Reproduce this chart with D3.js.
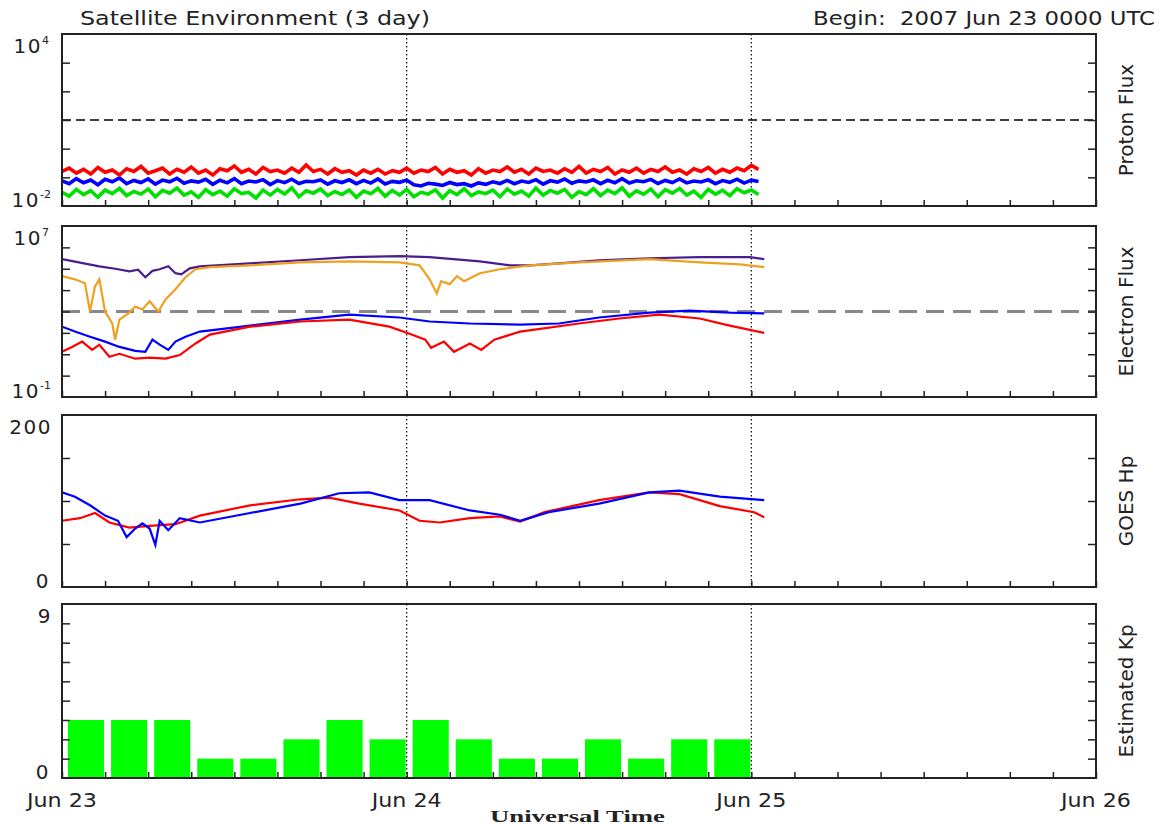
<!DOCTYPE html>
<html>
<head>
<meta charset="utf-8" />
<title>Satellite Environment (3 day)</title>
<script src="https://d3js.org/d3.v7.min.js"></script>
<style>
body { margin: 0; background: #fff; font-family: "DejaVu Sans", sans-serif; }
.frame { fill: none; stroke: #222; stroke-width: 2; }
.axis path { display: none; }
.axis line { stroke: #222; stroke-width: 1.5; }
.lbl { font-size: 19px; fill: #222; }
</style>
</head>
<body>
<div id="graphic"></div>
<script>
// ---- data (hours from 2007 Jun 23 00:00 UTC) ----
const protonRed = [0.16,0.21,0.14,0.19,0.13,0.22,0.15,0.18,0.12,0.20,0.16,0.24,0.14,0.17,0.21,0.13,0.19,0.15,0.23,0.14,
  0.18,0.12,0.20,0.17,0.25,0.15,0.19,0.13,0.22,0.16,0.18,0.14,0.21,0.15,0.27,0.16,0.19,0.13,0.20,0.15,
  0.17,0.12,0.18,0.14,0.19,0.13,0.17,0.15,0.21,0.14,0.18,0.16,0.22,0.13,0.19,0.15,0.17,0.12,0.20,0.14,
  0.18,0.16,0.23,0.15,0.19,0.13,0.21,0.16,0.18,0.14,0.20,0.15,0.24,0.14,0.19,0.16,0.22,0.13,0.18,0.15,
  0.21,0.14,0.19,0.16,0.23,0.15,0.18,0.13,0.20,0.16,0.22,0.14,0.19,0.15,0.21,0.17,0.26,0.19];
const protonBlue = [0.075,0.06,0.09,0.065,0.08,0.055,0.085,0.07,0.095,0.06,0.078,0.066,0.088,0.058,0.08,0.07,0.092,0.062,0.075,0.068,
  0.085,0.057,0.079,0.064,0.09,0.06,0.074,0.069,0.083,0.056,0.077,0.065,0.086,0.061,0.073,0.07,0.081,0.058,0.076,0.066,
  0.082,0.06,0.078,0.063,0.088,0.059,0.072,0.067,0.08,0.055,0.05,0.062,0.058,0.052,0.066,0.056,0.06,0.05,0.064,0.057,
  0.07,0.061,0.078,0.06,0.074,0.066,0.083,0.058,0.076,0.068,0.087,0.062,0.075,0.069,0.082,0.06,0.079,0.065,0.09,0.063,
  0.076,0.07,0.085,0.061,0.078,0.066,0.088,0.064,0.074,0.069,0.082,0.06,0.077,0.067,0.086,0.063,0.08,0.072];
const protonGreen = [0.03,0.022,0.038,0.025,0.034,0.02,0.036,0.027,0.041,0.023,0.032,0.026,0.039,0.021,0.035,0.028,0.042,0.024,0.031,0.02,
  0.037,0.025,0.033,0.022,0.04,0.027,0.03,0.019,0.036,0.024,0.038,0.026,0.043,0.021,0.034,0.028,0.039,0.023,0.032,0.025,
  0.036,0.02,0.033,0.027,0.041,0.022,0.035,0.024,0.038,0.021,0.03,0.026,0.037,0.019,0.034,0.025,0.04,0.023,0.031,0.027,
  0.036,0.021,0.039,0.026,0.033,0.022,0.042,0.024,0.035,0.028,0.038,0.02,0.032,0.025,0.04,0.023,0.036,0.027,0.043,0.022,
  0.034,0.026,0.039,0.021,0.037,0.028,0.041,0.024,0.033,0.02,0.038,0.026,0.035,0.023,0.04,0.029,0.036,0.025];
const protonStep = 0.5; // hours between proton samples

// electron flux [hour, value]
const elecPurple = [[0,2.8e5],[2.6,1.3e5],[3.7,1.0e5],[4.7,7.6e4],[5.3,9.0e4],[5.8,4.0e4],[6.3,8.0e4],[6.8,9.5e4],
  [7.4,1.3e5],[7.9,6.2e4],[8.3,5.5e4],[8.9,1.05e5],[9.6,1.3e5],[13.1,1.8e5],[16.6,2.5e5],[20,3.5e5],[23.5,3.9e5],
  [25.6,3.5e5],[29.1,2.2e5],[31.2,1.45e5],[32.6,1.45e5],[34.6,1.8e5],[37.4,2.5e5],[40.9,3.1e5],[44.4,3.5e5],
  [47.9,3.5e5],[48.9,2.8e5]];
const elecOrange = [[0,4.5e4],[0.9,3.2e4],[1.6,2.1e4],[1.95,1.0e3],[2.3,1.5e4],[2.6,3.2e4],[3.0,1.0e3],[3.5,280],
  [3.7,48],[4.0,420],[4.6,800],[5.1,1.7e3],[5.6,1.25e3],[6.1,3.0e3],[6.7,1.0e3],[7.2,3.6e3],[7.9,1.1e4],[8.6,4.0e4],
  [9.3,9.5e4],[10.3,1.2e5],[13.1,1.45e5],[16.6,2.0e5],[20,2.2e5],[23.5,2.0e5],[24.9,1.45e5],[25.6,3.2e4],[26.1,7e3],
  [26.4,2.6e4],[27.0,1.9e4],[27.5,4.5e4],[28.0,2.6e4],[29.1,6.2e4],[30.5,9.5e4],[32.6,1.45e5],[36.0,2.0e5],
  [40.9,2.8e5],[44.4,2.0e5],[47.2,1.6e5],[48.9,1.2e5]];
const elecBlue = [[0,195],[0.9,115],[1.95,66],[3.0,39],[4.0,22],[5.1,14.5],[5.8,13],[6.3,48],[6.8,28],[7.4,16],
  [7.9,39],[8.6,66],[9.6,115],[13.1,220],[16.6,420],[20,720],[23.5,525],[25.6,340],[28.4,275],[31.9,245],[34.6,275],
  [37.4,525],[40.9,890],[43.7,1100],[46.5,890],[48.9,810]];
const elecRed = [[0,13],[0.7,22],[1.4,39],[2.1,16],[2.6,28],[3.3,7.6],[4.0,10.5],[5.1,6.2],[6.1,6.9],[7.2,6.2],
  [8.2,9.2],[9.3,32],[10.3,83],[13.1,195],[16.6,340],[20,420],[22.8,195],[24.2,91],[25.3,48],[25.7,20],[26.6,39],
  [27.3,13],[28.4,32],[29.2,16],[30.1,48],[31.9,115],[36.0,275],[38.8,470],[41.6,720],[44.4,470],[46.5,220],[48.9,100]];

// GOES Hp (nT) [hour, value]
const hpBlue = [[0,110],[0.9,105],[1.95,95],[3.0,83],[3.9,77],[4.5,58],[5.1,68],[5.6,74],[6.1,68],[6.5,49],[6.8,77],
  [7.4,66],[8.2,80],[9.6,75],[13.1,86],[16.6,97],[19.3,109],[21.4,110],[23.5,101],[25.6,101],[28.4,89],[30.5,84],
  [31.9,77],[33.9,87],[37.4,97],[40.9,110],[43.0,112],[45.8,105],[48.9,101]];
const hpRed = [[0,77],[1.25,80],[2.3,86],[3.3,75],[4.7,69],[6.1,71],[7.9,73],[9.6,83],[13.1,95],[16.6,102],[18.6,104],
  [20.7,97],[23.5,89],[24.9,77],[26.3,75],[28.4,80],[30.5,82],[31.9,76],[33.6,87],[37.4,101],[40.9,110],[43.0,108],
  [45.8,94],[48.2,87],[48.9,81]];

// estimated Kp, 3-hour intervals
const kpValues = [3,3,3,1,1,2,3,2,3,2,1,1,2,1,2,2];

const dayLabels = ["Jun 23", "Jun 24", "Jun 25", "Jun 26"];
const panelNames = ["Proton Flux", "Electron Flux", "GOES Hp", "Estimated Kp"];

// ---- layout ----
const W = 1159, H = 825;
const left = 62, right = 1096;
const start = Date.UTC(2007, 5, 23);
const HR = 3600e3;
const t = h => new Date(start + h * HR);

const svg = d3.select("#graphic").append("svg")
  .attr("width", W).attr("height", H);

const x = d3.scaleUtc().domain([t(0), t(72)]).range([left, right]);

const panels = [
  {top: 34, bottom: 206, y: d3.scaleLog().domain([1e-2, 1e4]), ticks: [1e-1,1,10,100,1e3], lo: ["10", "-2"], hi: ["10", "4"]},
  {top: 226, bottom: 397, y: d3.scaleLog().domain([1e-1, 1e7]), ticks: [1,10,100,1e3,1e4,1e5,1e6], lo: ["10", "-1"], hi: ["10", "7"]},
  {top: 415, bottom: 587, y: d3.scaleLinear().domain([0, 200]), ticks: [50,100,150], lo: ["0"], hi: ["200"]},
  {top: 604, bottom: 778, y: d3.scaleLinear().domain([0, 9]), ticks: [1,2,3,4,5,6,7,8], lo: ["0"], hi: ["9"]}
];
panels.forEach(p => p.y.range([p.bottom, p.top]));

// title lines
svg.append("text").attr("class", "lbl").attr("x", 80).attr("y", 25)
  .attr("textLength", 350).attr("lengthAdjust", "spacingAndGlyphs")
  .style("font-size", "20px").text("Satellite Environment (3 day)");
svg.append("text").attr("class", "lbl").attr("x", 813).attr("y", 25)
  .attr("textLength", 342).attr("lengthAdjust", "spacingAndGlyphs")
  .style("white-space", "pre")
  .style("font-size", "19px").text("Begin:  2007 Jun 23 0000 UTC");

const defs = svg.append("defs");

panels.forEach((p, i) => {
  const g = svg.append("g");

  defs.append("clipPath").attr("id", "clip" + i)
    .append("rect").attr("x", left).attr("y", p.top)
    .attr("width", right - left).attr("height", p.bottom - p.top);

  const body = g.append("g").attr("clip-path", `url(#clip${i})`);

  // vertical day markers
  body.selectAll(".day").data([24, 48]).enter().append("line")
    .attr("x1", d => x(t(d))).attr("x2", d => x(t(d)))
    .attr("y1", p.top).attr("y2", p.bottom)
    .style("stroke", "#000").style("stroke-width", 1.2).style("stroke-dasharray", "1.5,2.5");

  // ticks
  g.append("g").attr("class", "axis").attr("transform", `translate(${left},0)`)
    .call(d3.axisRight(p.y).tickValues(p.ticks).tickSize(8).tickFormat(""));
  g.append("g").attr("class", "axis").attr("transform", `translate(${right},0)`)
    .call(d3.axisLeft(p.y).tickValues(p.ticks).tickSize(8).tickFormat(""));
  g.append("g").attr("class", "axis").attr("transform", `translate(0,${p.bottom})`)
    .call(d3.axisTop(x).ticks(d3.utcHour.every(3)).tickSize(6).tickFormat(""));

  p.body = body;

  // axis end labels
  const addLabel = (parts, yy, xx) => {
    const tx = g.append("text").attr("class", "lbl").attr("x", xx).attr("y", yy)
      .attr("text-anchor", "end").style("font-size", "20px").style("letter-spacing", "1.5px");
    tx.append("tspan").text(parts[0]);
    if (parts[1]) tx.append("tspan").attr("dy", -9).style("font-size", "11px")
      .style("letter-spacing", "0px").text(parts[1]);
  };
  addLabel(p.hi, p.top + 19, p.hi[1] ? 49 : 52);
  addLabel(p.lo, p.bottom + 1, p.lo[1] ? 51 : 50);

  // panel name on right
  const cy = (p.top + p.bottom) / 2;
  g.append("text").attr("class", "lbl")
    .attr("transform", `translate(1133,${cy}) rotate(-90)`)
    .attr("text-anchor", "middle").style("font-size", "20px")
    .text(panelNames[i]);
});

// ---- proton panel ----
const pp = panels[0];
const protonLine = d3.line().x((d, i) => x(t(i * protonStep))).y(d => pp.y(d));
[[protonGreen, "#00e000"], [protonBlue, "#0000ff"], [protonRed, "#ff0000"]].forEach(([s, c]) => {
  pp.body.append("path").datum(s).attr("d", protonLine)
    .style("fill", "none").style("stroke", c).style("stroke-width", 3.6);
});
pp.body.append("line").attr("x1", left).attr("x2", right)
  .attr("y1", pp.y(10)).attr("y2", pp.y(10))
  .style("stroke", "#000").style("stroke-width", 1.5).style("stroke-dasharray", "9,5");

// ---- electron panel ----
const ep = panels[1];
ep.body.append("line").attr("x1", left).attr("x2", right)
  .attr("y1", ep.y(1000)).attr("y2", ep.y(1000))
  .style("stroke", "#888").style("stroke-width", 3).style("stroke-dasharray", "18,9");
const elecLine = d3.line().x(d => x(t(d[0]))).y(d => ep.y(d[1]));
[[elecPurple, "#4b1d8c"], [elecOrange, "#f0a020"], [elecBlue, "#0000ff"], [elecRed, "#ff0000"]].forEach(([s, c]) => {
  ep.body.append("path").datum(s).attr("d", elecLine)
    .style("fill", "none").style("stroke", c).style("stroke-width", 2.2);
});

// ---- GOES Hp panel ----
const hp = panels[2];
const hpLine = d3.line().x(d => x(t(d[0]))).y(d => hp.y(d[1]));
[[hpRed, "#ff0000"], [hpBlue, "#0000ff"]].forEach(([s, c]) => {
  hp.body.append("path").datum(s).attr("d", hpLine)
    .style("fill", "none").style("stroke", c).style("stroke-width", 2.2);
});

// ---- Kp panel ----
const kp = panels[3];
kp.body.selectAll(".kp").data(kpValues).enter().append("rect")
  .attr("x", (d, i) => x(t(i * 3)) + 6)
  .attr("width", (d, i) => x(t(i * 3 + 3)) - x(t(i * 3)) - 7)
  .attr("y", d => kp.y(d))
  .attr("height", d => kp.y(0) - kp.y(d))
  .style("fill", "#00ff00");

// frames on top
panels.forEach(p => {
  svg.append("rect").attr("class", "frame")
    .attr("x", left).attr("y", p.top)
    .attr("width", right - left).attr("height", p.bottom - p.top);
});

// date labels
svg.selectAll(".day-lbl").data(dayLabels).enter().append("text")
  .attr("class", "lbl").attr("x", (d, i) => x(t(i * 24)) - 35).attr("y", 807)
  .attr("textLength", 70).attr("lengthAdjust", "spacingAndGlyphs")
  .style("font-size", "20px").text(d => d);

svg.append("text").attr("x", 490).attr("y", 822)
  .attr("textLength", 175).attr("lengthAdjust", "spacingAndGlyphs")
  .style("font-family", "'Liberation Serif', serif").style("font-weight", "bold")
  .style("font-size", "17px").style("fill", "#222").text("Universal Time");
</script>
</body>
</html>
